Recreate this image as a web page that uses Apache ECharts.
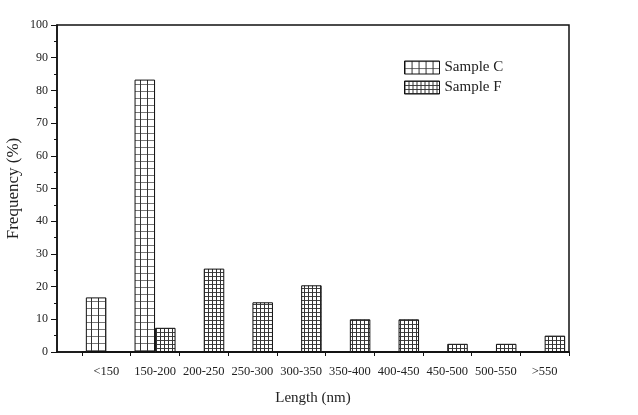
<!DOCTYPE html>
<html><head><meta charset="utf-8">
<script src="https://cdn.jsdelivr.net/npm/echarts@6/dist/echarts.min.js"></script>
<style>html,body{margin:0;padding:0;background:#fff}#c{width:638px;height:415px}</style>
</head><body><div id="c"></div>
<script>
const categories = ['<150','150-200','200-250','250-300','300-350','350-400','400-450','450-500','500-550','>550'];
const sampleC = [16.7, 83.3, null, null, null, null, null, null, null, null];
const sampleF = [null, 7.4, 25.5, 15.2, 20.4, 10.0, 10.0, 2.5, 2.5, 5.0];
const yTicks = [0,10,20,30,40,50,60,70,80,90,100];

function makePattern(w, h, vColor, hColor){
  const cv = document.createElement('canvas');
  cv.width = w; cv.height = h;
  const ctx = cv.getContext('2d');
  ctx.fillStyle = '#fff'; ctx.fillRect(0,0,w,h);
  ctx.fillStyle = hColor; ctx.fillRect(0,0,w,1);
  ctx.fillStyle = vColor; ctx.fillRect(0,0,1,h);
  return {image: cv, repeat: 'repeat'};
}
const patC = makePattern(7, 7, '#333', '#777');
const patF = makePattern(4, 4, '#333', '#444');

const font = '"Liberation Serif", "Times New Roman", serif';
const chart = echarts.init(document.getElementById('c'), null, {renderer:'canvas'});
chart.setOption({
  animation: false,
  backgroundColor: '#fff',
  grid: [
    {left: 57, right: 69, top: 25, bottom: 63, show: true, borderColor: '#111', borderWidth: 1.5, backgroundColor: 'transparent', containLabel: false, outerBoundsMode: 'none'},
    {left: 82, right: 69, top: 25, bottom: 63, containLabel: false, outerBoundsMode: 'none'}
  ],
  legend: {
    orient: 'vertical', left: 399, top: 55, itemWidth: 35, itemHeight: 13, itemGap: 5, icon: 'rect',
    textStyle: {fontFamily: font, fontSize: 15, color: '#222'},
    itemStyle: {borderColor: '#111', borderWidth: 1},
    data: ['Sample C', 'Sample F']
  },
  xAxis: [
    {type: 'value', gridIndex: 0, min: 0, max: 1, name: 'Length (nm)', nameLocation: 'middle', nameGap: 39, nameMoveOverlap: false,
     nameTextStyle: {fontFamily: font, fontSize: 15, color: '#222'},
     axisLine: {show: true, lineStyle: {color: '#111', width: 1.5}}, axisTick: {show: false}, axisLabel: {show: false}, splitLine: {show: false}},
    {type: 'category', gridIndex: 1, data: categories, boundaryGap: true,
     axisLine: {show: true, lineStyle: {color: '#111', width: 1.5}},
     axisTick: {show: true, length: 4, lineStyle: {color: '#111', width: 1}},
     axisLabel: {fontFamily: font, fontSize: 12.5, color: '#222', margin: 13, interval: 0}}
  ],
  yAxis: [
    {type: 'value', gridIndex: 0, min: 0, max: 100, interval: 10, name: 'Frequency (%)', nameLocation: 'middle', nameGap: 35, nameMoveOverlap: false,
     nameTextStyle: {fontFamily: font, fontSize: 17, color: '#222'},
     axisLine: {show: true, lineStyle: {color: '#111', width: 1.5}},
     axisTick: {show: true, length: 6, lineStyle: {color: '#111', width: 1}},
     minorTick: {show: true, splitNumber: 2, length: 3, lineStyle: {color: '#111', width: 1}},
     axisLabel: {fontFamily: font, fontSize: 12, color: '#222', margin: 9, formatter: v => yTicks.includes(v) ? String(v) : ''},
     splitLine: {show: false}},
    {type: 'value', gridIndex: 1, min: 0, max: 100, show: false, splitLine: {show: false}}
  ],
  series: [
    {name: 'Sample C', type: 'bar', xAxisIndex: 1, yAxisIndex: 1, data: sampleC, barWidth: 20.5, barGap: '0%',
     itemStyle: {color: patC, borderColor: '#111', borderWidth: 1}},
    {name: 'Sample F', type: 'bar', xAxisIndex: 1, yAxisIndex: 1, data: sampleF, barWidth: 20.5, barGap: '0%',
     itemStyle: {color: patF, borderColor: '#111', borderWidth: 1}}
  ]
});
</script></body></html>
